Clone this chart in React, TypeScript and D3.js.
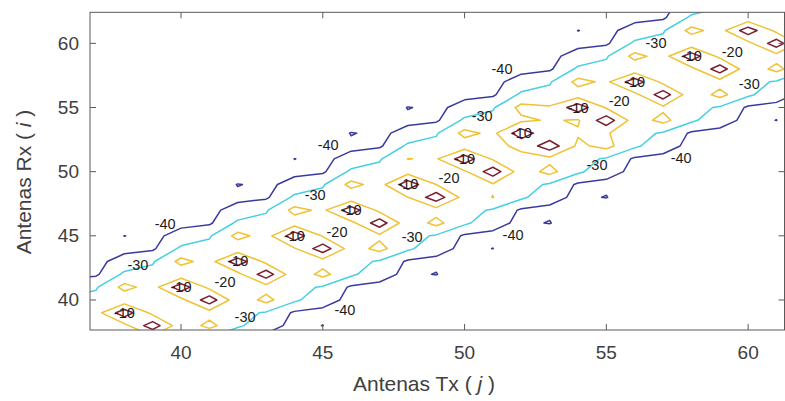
import React from 'react';
import * as d3 from 'd3';

const W = 785;
const H = 401;
const plot = { left: 90, right: 785, top: 12.3, bottom: 330 };

const xDomain = [36.79, 61.3];
const yDomain = [37.66, 62.42];
const xTicks = [40, 45, 50, 55, 60];
const yTicks = [40, 45, 50, 55, 60];

// Antenna indices covered by the coupling grid (Tx on x, Rx on y)
const txIndices = d3.range(34, 65);
const rxIndices = d3.range(35, 66);

// Contour levels (dB) and their line colours
const levels = [-40, -30, -20, -10];
const levelColors = ['#3a3a9e', '#45d0e2', '#f0c236', '#7c1f30'];
// Levels whose saddle cells join the high corners (cell average above the level)
const joinHighSaddles = [true, true, true, false];

// Coupling (dB) against index offset |Rx - Tx|, split by parity of the lower index
const couplingEven = [-23, -4, -27, -17, -28, -37, -42, -44, -48, -50, -52, -54, -56];
const couplingOdd = [-23, -24, -24, -27, -31, -41.5, -42, -46, -48, -50, -52, -54, -56];

// Per port-pair block (block = floor(min(i, j) / 2)) corrections
const blockIds = d3.range(17, 33);
const nearLift = [0, 0, 0, 0, 0, 2, 0, 3, 1.5, 5, 2, 0, 0, 0, 0, 0];
const offset3Even = [-17, -17, -17, -17, -17, -17, -17, -19.8, -17, -17, -17, -17, -17, -17, -17, -17];
const offset7Even = [-44, -44, -39.9, -44, -39.6, -39.9, -39.5, -39.6, -44, -44, -39.9, -44, -44, -44, -44, -44];

// Contour label positions (data units)
const tenLabelTx = [38, 40, 42, 44, 46, 48, 50, 52, 54, 56, 58];
const label20 = [[41.55, 41.4], [45.5, 45.3], [49.45, 49.5], [55.45, 55.5], [59.44, 59.31]];
const label30 = [[38.48, 42.73], [44.73, 48.18], [50.62, 54.33], [56.75, 60.02], [42.26, 38.68], [48.15, 44.91], [54.67, 50.51], [60.04, 56.82]];
const label40 = [[39.44, 45.92], [45.19, 52.07], [51.32, 57.99], [45.78, 39.22], [51.71, 45.06], [57.64, 51.06]];

function coupling(tx: number, rx: number): number {
  const lo = Math.min(tx, rx);
  const d = Math.abs(rx - tx);
  const even = lo % 2 === 0;
  const bi = Math.floor(lo / 2) - blockIds[0];
  const table = even ? couplingEven : couplingOdd;
  let v = table[Math.min(d, table.length - 1)];
  if (d <= 2 && !(d === 1 && even)) v += nearLift[bi] ?? 0;
  if (d === 3 && even && offset3Even[bi] !== undefined) v = offset3Even[bi];
  if (d === 7 && even && offset7Even[bi] !== undefined) v = offset7Even[bi];
  return v;
}

export default function App() {
  const x = d3.scaleLinear().domain(xDomain).range([plot.left, plot.right]);
  const y = d3.scaleLinear().domain(yDomain).range([plot.bottom, plot.top]);

  const nx = txIndices.length;
  const ny = rxIndices.length;
  const values: number[] = [];
  rxIndices.forEach((rx) => txIndices.forEach((tx) => values.push(coupling(tx, rx))));
  const negated = values.map((v) => -v);

  const tx0 = txIndices[0];
  const rx0 = rxIndices[0];
  const projection = d3.geoTransform({
    point(px: number, py: number) {
      (this as any).stream.point(x(tx0 + px - 0.5), y(rx0 + py - 0.5));
    },
  });
  const path = d3.geoPath(projection);

  // d3 splits high corners in saddle cells; contouring the negated grid joins them instead
  const lines = levels.map((lv, i) => {
    const gen = d3.contours().size([nx, ny]);
    const c = joinHighSaddles[i] ? gen.contour(negated, -lv) : gen.contour(values, lv);
    return path(c as any) || '';
  });

  const font = '"Liberation Sans", Arial, Helvetica, sans-serif';
  const labelStyle = { fontFamily: font, fontSize: 14.5, fill: '#1c1c1c' };

  return (
    <svg width={W} height={H} style={{ position: 'absolute', left: 0, top: 0, background: '#fff' }}>
      <defs>
        <clipPath id="plot-area">
          <rect x={plot.left} y={plot.top} width={plot.right - plot.left} height={plot.bottom - plot.top} />
        </clipPath>
      </defs>
      <rect x={0} y={0} width={W} height={H} fill="#fff" />
      <g clipPath="url(#plot-area)">
        {lines.map((d, i) => (
          <path key={i} d={d} fill="none" stroke={levelColors[i]} strokeWidth={1.5} strokeLinejoin="round" />
        ))}
      </g>
      <g clipPath="url(#plot-area)" textAnchor="middle" dominantBaseline="central" style={labelStyle}>
        {tenLabelTx.map((t, i) => (
          <text key={'t' + i} x={x(t)} y={y(t + 1)}>-10</text>
        ))}
        {label20.map((p, i) => (
          <text key={'a' + i} x={x(p[0])} y={y(p[1])}>-20</text>
        ))}
        {label30.map((p, i) => (
          <text key={'b' + i} x={x(p[0])} y={y(p[1])}>-30</text>
        ))}
        {label40.map((p, i) => (
          <text key={'c' + i} x={x(p[0])} y={y(p[1])}>-40</text>
        ))}
      </g>
      {/* axes frame */}
      <rect x={plot.left} y={plot.top} width={plot.right - plot.left - 0.5} height={plot.bottom - plot.top} fill="none" stroke="#5a5a5a" strokeWidth={1} />
      {xTicks.map((t) => (
        <g key={'xt' + t}>
          <line x1={x(t)} x2={x(t)} y1={plot.bottom} y2={plot.bottom - 6} stroke="#5a5a5a" />
          <line x1={x(t)} x2={x(t)} y1={plot.top} y2={plot.top + 6} stroke="#5a5a5a" />
          <text x={x(t)} y={359} textAnchor="middle" style={{ fontFamily: font, fontSize: 19, fill: '#404040' }}>{t}</text>
        </g>
      ))}
      {yTicks.map((t) => (
        <g key={'yt' + t}>
          <line x1={plot.left} x2={plot.left + 6} y1={y(t)} y2={y(t)} stroke="#5a5a5a" />
          <line x1={plot.right - 0.5} x2={plot.right - 6.5} y1={y(t)} y2={y(t)} stroke="#5a5a5a" />
          <text x={79} y={y(t)} textAnchor="end" dominantBaseline="central" style={{ fontFamily: font, fontSize: 19, fill: '#404040' }}>{t}</text>
        </g>
      ))}
      <text x={424} y={391} textAnchor="middle" style={{ fontFamily: font, fontSize: 21, fill: '#404040' }}>
        Antenas Tx ( <tspan fontStyle="italic">j</tspan> )
      </text>
      <text transform={`translate(31,182) rotate(-90)`} textAnchor="middle" style={{ fontFamily: font, fontSize: 21, fill: '#404040' }}>
        Antenas Rx ( <tspan fontStyle="italic">i</tspan> )
      </text>
    </svg>
  );
}
